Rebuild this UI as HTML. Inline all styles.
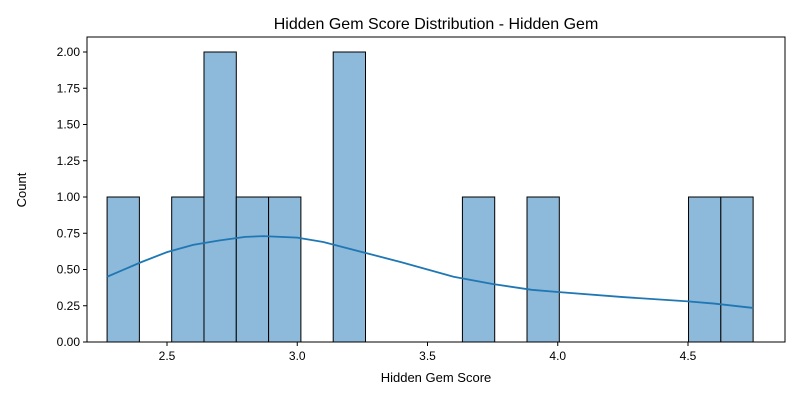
<!DOCTYPE html>
<html><head><meta charset="utf-8"><style>
body{margin:0;background:#fff;font-family:"Liberation Sans","DejaVu Sans",sans-serif;}
</style></head><body>
<svg id="c" width="800" height="400" xmlns="http://www.w3.org/2000/svg"></svg>
<script>
const binStart = 2.27;
const binWidth = 0.1240;
const counts = [1,0,1,2,1,1,0,2,0,0,0,1,0,1,0,0,0,0,1,1];
const kdeX = [2.27,2.4,2.5,2.6,2.7,2.8,2.87,3.0,3.1,3.25,3.4,3.5,3.6,3.75,3.9,4.0,4.25,4.5,4.6,4.75];
const kdeY = [0.45,0.55,0.62,0.67,0.70,0.725,0.73,0.72,0.69,0.62,0.55,0.50,0.45,0.40,0.36,0.345,0.31,0.28,0.265,0.235];
const xTicks = [2.5,3.0,3.5,4.0,4.5];
const yTicks = [0,0.25,0.5,0.75,1.0,1.25,1.5,1.75,2.0];
const L=87,R=785,T=37,B=342;
const X=v=>167+(v-2.5)*260.5;
const Y=v=>B-v*145;
const svg=document.getElementById('c');
const NS='http://www.w3.org/2000/svg';
function mk(t,a,txt){const e=document.createElementNS(NS,t);for(const k in a)e.setAttribute(k,a[k]);if(txt!==undefined)e.textContent=txt;svg.appendChild(e);return e;}
counts.forEach((c,i)=>{ if(!c)return;
 const x0=X(binStart+i*binWidth),x1=X(binStart+(i+1)*binWidth);
 const r=mk('rect',{x:x0,y:Y(c),width:x1-x0,height:Y(0)-Y(c),fill:'#8db9da',stroke:'#000','stroke-width':1});
 
 
});
const p=mk('path',{d:kdeX.map((v,i)=>(i?'L':'M')+X(v)+','+Y(kdeY[i])).join(' '),fill:'none',stroke:'#1f77b4','stroke-width':1.8});


const f=mk('rect',{x:L,y:T,width:R-L,height:B-T,fill:'none',stroke:'#000','stroke-width':1});


xTicks.forEach(v=>{mk('line',{x1:X(v),x2:X(v),y1:B,y2:B+4,stroke:'#000'});
 const t=mk('text',{x:X(v),y:B+18,'text-anchor':'middle','font-size':12},v.toFixed(1));
 
 });
yTicks.forEach(v=>{mk('line',{x1:L-4,x2:L,y1:Y(v),y2:Y(v),stroke:'#000'});
 const t=mk('text',{x:L-7,y:Y(v)+4,'text-anchor':'end','font-size':12},v.toFixed(2));
 
 });
const xt=mk('text',{x:436,y:382,'text-anchor':'middle','font-size':13},'Hidden Gem Score');


const yt=mk('text',{x:26,y:190,'text-anchor':'middle','font-size':13,transform:'rotate(-90 26 190)'},'Count');


const tt=mk('text',{x:436,y:29,'text-anchor':'middle','font-size':16},'Hidden Gem Score Distribution - Hidden Gem');


</script>
</body></html>
